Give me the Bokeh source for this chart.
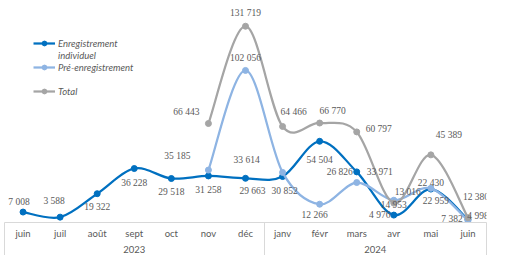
import numpy as np
from bokeh.plotting import figure
from bokeh.models import (ColumnDataSource, LabelSet, LinearAxis, FixedTicker,
                          Range1d, Legend, LegendItem)
from bokeh.embed import file_html
from bokeh.resources import INLINE

NaN = float("nan")

# ---- data ----
months = ["juin", "juil", "août", "sept", "oct", "nov", "déc",
          "janv", "févr", "mars", "avr", "mai", "juin"]
years = ["2023", "2024"]
year_months = [7, 6]

individuel = [7008, 3588, 19322, 36228, 29518, 31258, 29663,
              30852, 54504, 33971, 4976, 22430, 2000]
pre_enreg = [NaN, NaN, NaN, NaN, NaN, 35185, 102056,
             33614, 12266, 26826, 14953, 22959, 1200]
total = [NaN, NaN, NaN, NaN, NaN, 66443, 131719,
         64466, 66770, 60797, 13016, 45389, 3200]

labels_individuel = ["7 008", "3 588", "19 322", "36 228", "29 518", "31 258", "29 663",
                     "30 852", "54 504", "33 971", "4 976", "22 430", "7 382"]
labels_pre = ["", "", "", "", "", "35 185", "102 056",
              "33 614", "12 266", "26 826", "14 953", "22 959", "4 998"]
labels_total = ["", "", "", "", "", "66 443", "131 719",
                "64 466", "66 770", "60 797", "13 016", "45 389", "12 380"]

series_names = ["Enregistrement", "Pré-enregistrement", "Total"]

# ---- styles (label offsets in screen px: dx right, dy up) ----
off_individuel = [(-4, 10), (-6, 16), (0, -13), (0, -14), (0, -13), (0, -14), (7, -13),
                  (2, -14), (0, -19), (23, 0), (-14, 0), (0, 6), (-16, 1)]
off_pre = [(0, 0)] * 5 + [(-31, 14), (0, 12), (-36, 12), (-5, -11), (-17, 11),
                          (0, -5), (5, -13), (10, 5)]
off_total = [(0, 0)] * 5 + [(-22, 12), (0, 13), (11, 14), (13, 12), (22, 3),
                            (14, 11), (18, 20), (8, 21)]

colors = ["#0070C0", "#8EB4E3", "#A5A5A5"]
TXT = "#595959"
FONT = "Lato"
FS = "9.5px"

n = len(months)
xs = np.arange(n) + 0.5

p = figure(width=494, height=255, x_range=Range1d(0, n), y_range=Range1d(0, 149000),
           output_backend="svg", toolbar_location=None,
           x_axis_type=None, y_axis_type=None,
           min_border_left=4, min_border_right=8, min_border_top=0, min_border_bottom=0)
p.outline_line_color = None
p.background_fill_color = "white"
p.border_fill_color = "white"

# month axis (group separators drawn as long minor ticks)
sep = [0]
for c in year_months:
    sep.append(sep[-1] + c)
ax1 = LinearAxis(ticker=FixedTicker(ticks=list(xs), minor_ticks=sep),
                 major_label_overrides={float(x): m for x, m in zip(xs, months)})
ax1.axis_line_color = "#D9D9D9"
ax1.major_tick_line_color = None
ax1.major_tick_out = 0
ax1.major_tick_in = 0
ax1.minor_tick_line_color = "#D9D9D9"
ax1.minor_tick_out = 34
ax1.minor_tick_in = 0
ax1.major_label_standoff = -29
ax1.major_label_text_font = FONT
ax1.major_label_text_font_size = FS
ax1.major_label_text_color = TXT
p.add_layout(ax1, "below")

year_centers = [(sep[i] + sep[i + 1]) / 2 for i in range(len(years))]
ax2 = LinearAxis(ticker=FixedTicker(ticks=year_centers, minor_ticks=[]),
                 major_label_overrides={float(c): y for c, y in zip(year_centers, years)})
ax2.axis_line_color = None
ax2.major_tick_line_color = None
ax2.major_tick_out = 0
ax2.major_tick_in = 0
ax2.minor_tick_line_color = None
ax2.major_label_standoff = 4
ax2.major_label_text_font = FONT
ax2.major_label_text_font_size = FS
ax2.major_label_text_color = TXT
p.add_layout(ax2, "below")


def bezier_data(vals):
    ys = np.array(vals, dtype=float)
    idx = np.where(~np.isnan(ys))[0]
    px, py = xs[idx], ys[idx]
    m = len(px)
    d = dict(x0=[], y0=[], x1=[], y1=[], cx0=[], cy0=[], cx1=[], cy1=[])
    for k in range(m - 1):
        km, kp = max(k - 1, 0), min(k + 2, m - 1)
        d["x0"].append(px[k]); d["y0"].append(py[k])
        d["x1"].append(px[k + 1]); d["y1"].append(py[k + 1])
        d["cx0"].append(px[k] + (px[k + 1] - px[km]) / 6)
        d["cy0"].append(py[k] + (py[k + 1] - py[km]) / 6)
        d["cx1"].append(px[k + 1] - (px[kp] - px[k]) / 6)
        d["cy1"].append(py[k + 1] - (py[kp] - py[k]) / 6)
    return d, px, py


renderers = []
all_series = [(individuel, labels_individuel, off_individuel),
              (pre_enreg, labels_pre, off_pre),
              (total, labels_total, off_total)]
for (vals, labs, offs), col in zip(all_series, colors):
    d, px, py = bezier_data(vals)
    rl = p.bezier(source=ColumnDataSource(d), x0="x0", y0="y0", x1="x1", y1="y1",
                  cx0="cx0", cy0="cy0", cx1="cx1", cy1="cy1",
                  line_color=col, line_width=2.25)
    rs = p.scatter(x=px, y=py, size=6, fill_color=col, line_color=col)
    renderers.append((rl, rs))

for (vals, labs, offs), col in zip(all_series, colors):
    ys = np.array(vals, dtype=float)
    idx = [i for i in range(n) if not np.isnan(ys[i])]
    src = ColumnDataSource(dict(
        x=[xs[i] for i in idx], y=[ys[i] for i in idx],
        text=[labs[i] for i in idx],
        dx=[offs[i][0] for i in idx], dy=[offs[i][1] for i in idx]))
    p.add_layout(LabelSet(x="x", y="y", text="text", x_offset="dx", y_offset="dy",
                          source=src, text_align="center", text_baseline="middle",
                          text_font=FONT, text_font_size=FS, text_color=TXT))

dummy = p.scatter(x=[], y=[], alpha=0)
items = [
    LegendItem(label="Enregistrement", renderers=list(renderers[0])),
    LegendItem(label="individuel", renderers=[dummy]),
    LegendItem(label=series_names[1], renderers=list(renderers[1])),
    LegendItem(label=" ", renderers=[dummy]),
    LegendItem(label=series_names[2], renderers=list(renderers[2])),
]
legend = Legend(items=items, location=(29, 125))
legend.padding = 0
legend.margin = 0
legend.spacing = 0
legend.label_height = 12
legend.glyph_height = 12
legend.glyph_width = 22
legend.label_standoff = 3
legend.border_line_color = None
legend.background_fill_alpha = 0
legend.label_text_font = FONT
legend.label_text_font_style = "italic"
legend.label_text_font_size = FS
legend.label_text_color = TXT
p.add_layout(legend)

open("out.html", "w").write(file_html(p, INLINE))
